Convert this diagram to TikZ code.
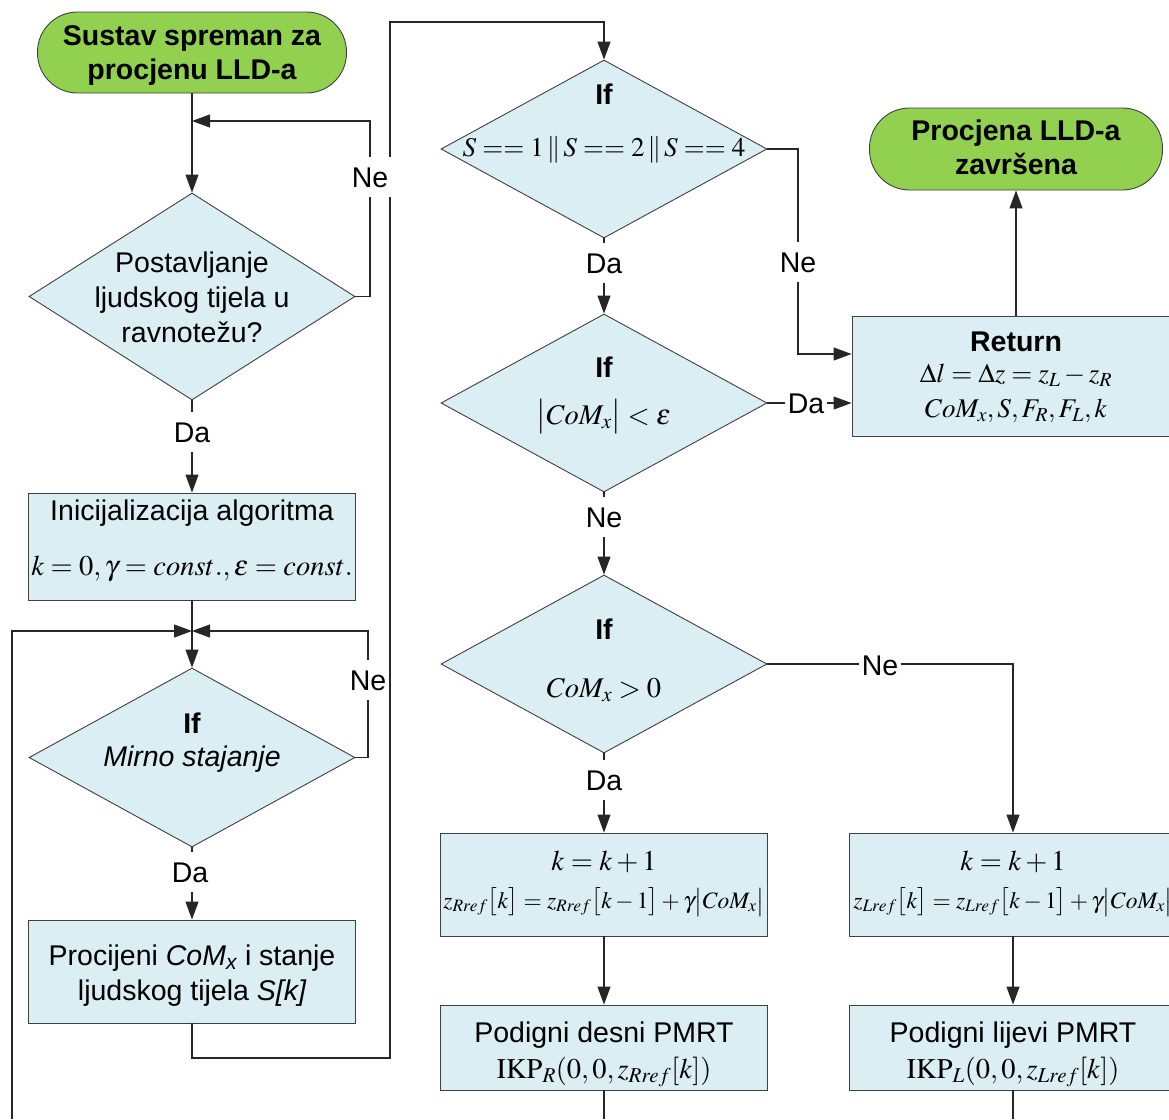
\documentclass[tikz,border=0pt]{standalone}
\usepackage{mathptmx}
\usepackage[no-math]{fontspec}
\setmainfont{Liberation Sans}
\usetikzlibrary{shapes.geometric,arrows.meta}
\definecolor{termgreen}{HTML}{92D050}
\definecolor{boxblue}{HTML}{DAEEF3}
\definecolor{edgegray}{HTML}{404040}
\newcommand\myfs{\fontsize{28.5}{34}\selectfont}
\newcommand\mysmall{\fontsize{23.5}{28}\selectfont}
\newcommand\mymid{\fontsize{27}{32}\selectfont}
\begin{document}
\begin{tikzpicture}[x=1pt,y=-1pt,
  every node/.style={font=\myfs},
  term/.style={draw=edgegray, fill=termgreen, rounded corners=40pt, line width=0.9pt, inner sep=0pt},
  proc/.style={draw=edgegray, fill=boxblue, line width=0.9pt, minimum width=327pt, inner sep=0pt},
  dia/.style={draw=edgegray, fill=boxblue, diamond, inner sep=0pt, line width=0.9pt, minimum width=326pt},
  txt/.style={inner sep=0pt, anchor=base},
  lbl/.style={fill=white, inner xsep=3pt, inner ysep=10pt, anchor=base},
  conn/.style={draw=black!85, line width=1.1pt},
  arr/.style={conn, -{Triangle[length=18pt,width=13pt]}},
]
\useasboundingbox (0,0) rectangle (1169,1119);

% ---------- shapes ----------
\node[term, minimum width=309pt, minimum height=81pt] (start) at (192,52.5) {};
\node[dia, minimum height=207pt] (d1) at (192,296.5) {};
\node[proc, minimum height=107pt] (box1) at (192,546.5) {};
\node[dia, minimum height=179pt] (d2) at (192,757.5) {};
\node[proc, minimum height=103pt] (box2) at (192,971.5) {};
\node[dia, minimum height=178pt] (d3) at (604,149) {};
\node[dia, minimum height=178pt] (d4) at (604,403) {};
\node[dia, minimum height=178pt] (d5) at (604,664) {};
\node[proc, minimum width=328pt, minimum height=120pt] (ret) at (1016,376) {};
\node[term, minimum width=293pt, minimum height=82pt] (endT) at (1016,149) {};
\node[proc, minimum height=103pt] (R1) at (604,884.5) {};
\node[proc, minimum height=85pt] (R2) at (604,1047.5) {};
\node[proc, minimum height=103pt] (L1) at (1013,884.5) {};
\node[proc, minimum height=85pt] (L2) at (1013,1047.5) {};

% ---------- texts ----------
\node[txt, font=\myfs\bfseries] (t1a) at (192,45) {Sustav spreman za};
\node[txt, font=\myfs\bfseries] (t1b) at (192,79) {procjenu LLD-a};
\node[txt] (t2a) at (192,272) {Postavljanje};
\node[txt] (t2b) at (192,307) {ljudskog tijela u};
\node[txt] (t2c) at (192,342) {ravnotežu?};
\node[txt] (t3a) at (192,520) {Inicijalizacija algoritma};
\node[txt] (t3b) at (192,575) {$k=0,\gamma=const.,\varepsilon=const.$};
\node[txt, font=\myfs\bfseries] (t4a) at (192,733) {If};
\node[txt, font=\myfs\itshape] (t4b) at (192,766) {Mirno stajanje};
\node[txt] (t5a) at (192,965) {Procijeni {\itshape CoM\textsubscript{x}} i stanje};
\node[txt] (t5b) at (192,1000) {ljudskog tijela {\itshape S[k]}};
\node[txt, font=\myfs\bfseries] (t6a) at (604,104) {If};
\node[txt, font=\mymid] (t6b) at (604,156) {$S==1\,\|\,S==2\,\|\,S==4$};
\node[txt, font=\myfs\bfseries] (t7a) at (604,377) {If};
\node[txt] (t7b) at (604,424) {$\bigl|CoM_x\bigr|<\varepsilon$};
\node[txt, font=\myfs\bfseries] (t8a) at (604,639) {If};
\node[txt] (t8b) at (604,697) {$CoM_x>0$};
\node[txt, font=\myfs\bfseries] (t9a) at (1016,140) {Procjena LLD-a};
\node[txt, font=\myfs\bfseries] (t9b) at (1016,174) {završena};
\node[txt, font=\myfs\bfseries] (t10a) at (1016,351) {Return};
\node[txt, font=\mymid] (t10b) at (1016,382) {$\Delta l=\Delta z=z_L-z_R$};
\node[txt, font=\mymid] (t10c) at (1016,417) {$CoM_x,S,F_R,F_L,k$};
\node[txt] (t11a) at (604,870) {$k=k+1$};
\node[txt, font=\mysmall] (t11b) at (604,908) {$z_{Rref}\bigl[k\bigr]=z_{Rref}\bigl[k-1\bigr]+\gamma\bigl|CoM_x\bigr|$};
\node[txt] (t12a) at (604,1042) {Podigni desni PMRT};
\node[txt] (t12b) at (604,1078) {$\mathrm{IKP}_R(0,0,z_{Rref}[k])$};
\node[txt] (t13a) at (1013,870) {$k=k+1$};
\node[txt, font=\mysmall] (t13b) at (1013,908) {$z_{Lref}\bigl[k\bigr]=z_{Lref}\bigl[k-1\bigr]+\gamma\bigl|CoM_x\bigr|$};
\node[txt] (t14a) at (1013,1042) {Podigni lijevi PMRT};
\node[txt] (t14b) at (1013,1078) {$\mathrm{IKP}_L(0,0,z_{Lref}[k])$};

% ---------- coordinates ----------
\coordinate (j1) at (192,121);
\coordinate (b1) at (370,121);
\coordinate (j2) at (192,631);
\coordinate (b2) at (368,631);
\coordinate (lb) at (12,1119);
\coordinate (c4) at (390,1058);
\coordinate (c5) at (604,22);
\coordinate (c3) at (798,354);
\coordinate (eR) at (604,1119);
\coordinate (eL) at (1013,1119);

% ---------- connectors ----------
\draw[arr] (start.south) -- (d1.north);
\draw[arr] (d1.east) -| (b1) -- (j1);
\draw[arr] (d1.south) -- (box1.north);
\draw[arr] (box1.south) -- (d2.north);
\draw[arr] (lb) |- (j2);
\draw[arr] (d2.east) -| (b2) -- (j2);
\draw[arr] (d2.south) -- (box2.north);
\draw[arr] (box2.south) |- (c4) |- (c5) -- (d3.north);
\draw[arr] (d3.east) -| (c3) -- (c3 -| ret.west);
\draw[arr] (d3.south) -- (d4.north);
\draw[arr] (d4.east) -- (d4.east -| ret.west);
\draw[arr] (ret.north) -- (endT.south);
\draw[arr] (d4.south) -- (d5.north);
\draw[arr] (d5.east) -| (L1.north);
\draw[arr] (d5.south) -- (R1.north);
\draw[arr] (R1.south) -- (R2.north);
\draw[arr] (L1.south) -- (L2.north);
\draw[conn] (R2.south) -- (eR);
\draw[conn] (L2.south) -- (eL);

% ---------- labels ----------
\node[lbl] (ne1) at (370,187) {Ne};
\node[lbl] (da1) at (192,442) {Da};
\node[lbl] (ne2) at (368,690) {Ne};
\node[lbl] (da2) at (190,882) {Da};
\node[lbl] (da3) at (604,273) {Da};
\node[lbl] (ne3) at (798,272) {Ne};
\node[lbl] (da4) at (806,413) {Da};
\node[lbl] (ne4) at (604,527) {Ne};
\node[lbl] (ne5) at (880,675) {Ne};
\node[lbl] (da5) at (604,790) {Da};
\end{tikzpicture}
\end{document}
